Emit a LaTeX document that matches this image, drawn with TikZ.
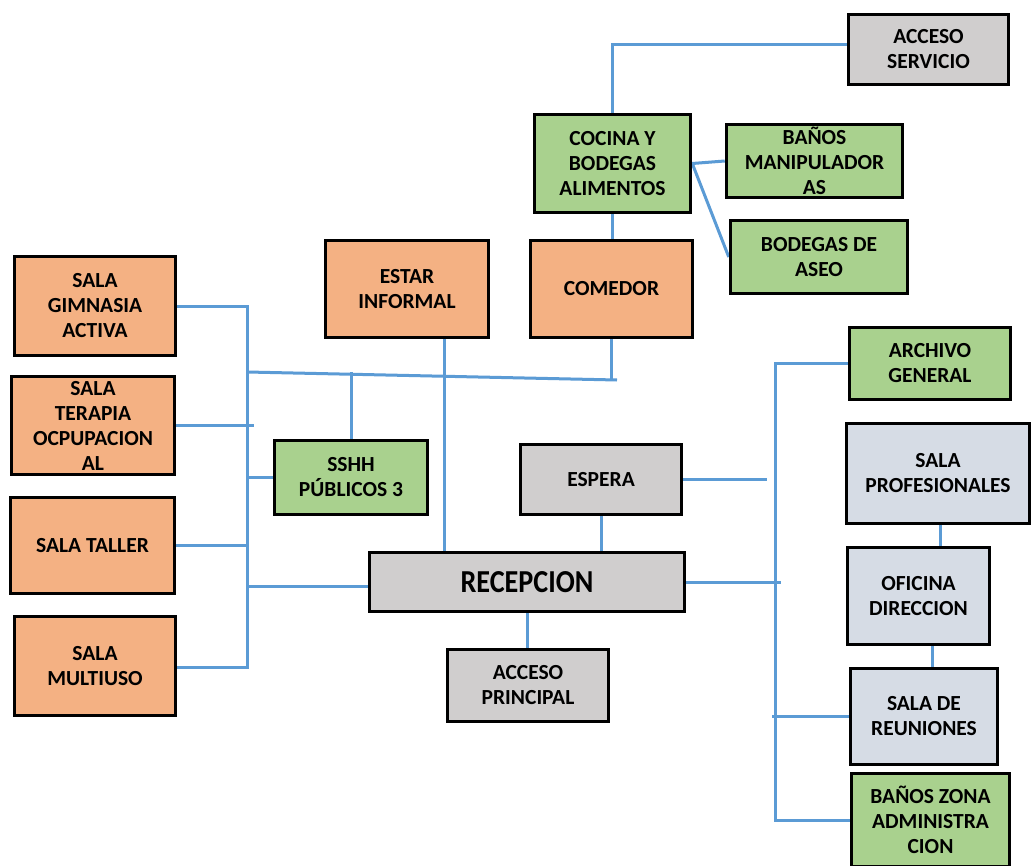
\documentclass[tikz,border=0pt]{standalone}
\usepackage{graphicx}
\usepackage{fontspec}
\setmainfont{Carlito}
\usetikzlibrary{backgrounds}
\definecolor{orangef}{HTML}{F4B183}
\definecolor{greenf}{HTML}{A9D18E}
\definecolor{grayf}{HTML}{D0CECE}
\definecolor{bluef}{HTML}{D6DCE5}
\definecolor{linec}{HTML}{5B9BD5}
\tikzset{
  box/.style={draw=black, line width=3.5pt, inner sep=0pt, align=center,
    font=\bfseries\fontsize{21.5}{25}\selectfont, text=black},
  conn/.style={draw=linec, line width=3pt}
}
\begin{document}
\begin{tikzpicture}[x=1pt,y=-1pt]
\useasboundingbox (0,0) rectangle (1032,866);
\clip (0,0) rectangle (1032,866);
% top cluster
\node[box, fill=grayf, minimum width=160pt, minimum height=70pt] (accser) at (928.5,49.5) {ACCESO\\SERVICIO};
\node[box, fill=greenf, minimum width=156pt, minimum height=98pt] (cocina) at (612.5,163.5) {COCINA Y\\BODEGAS\\ALIMENTOS};
\node[box, fill=greenf, minimum width=176pt, minimum height=73pt] (banman) at (814.5,161) {BAÑOS\\MANIPULADOR\\AS};
\node[box, fill=greenf, minimum width=177pt, minimum height=73pt] (bodaseo) at (819,257) {BODEGAS DE\\ASEO};
\node[box, fill=orangef, minimum width=162pt, minimum height=97pt] (comedor) at (611.5,289) {COMEDOR};
\node[box, fill=orangef, minimum width=163pt, minimum height=97pt] (estar) at (407,289) {ESTAR\\INFORMAL};
% left column
\node[box, fill=orangef, minimum width=161pt, minimum height=99pt] (gim) at (95,306) {SALA\\GIMNASIA\\ACTIVA};
\node[box, fill=orangef, minimum width=163pt, minimum height=98pt] (terapia) at (93,425.5) {SALA\\TERAPIA\\OCPUPACION\\AL};
\node[box, fill=orangef, minimum width=164pt, minimum height=96pt] (taller) at (92.5,545.5) {SALA TALLER};
\node[box, fill=orangef, minimum width=161pt, minimum height=99pt] (multi) at (95,666) {SALA\\MULTIUSO};
% centre
\node[box, fill=greenf, minimum width=153pt, minimum height=74pt] (sshh) at (351,477.5) {SSHH\\PÚBLICOS 3};
\node[box, fill=grayf, minimum width=161pt, minimum height=70pt] (espera) at (601,479.5) {ESPERA};
\node[box, fill=grayf, minimum width=315pt, minimum height=59pt, font=\bfseries\fontsize{32}{34}\selectfont] (recep) at (527,582) {\scalebox{0.88}[1]{RECEPCION}};
\node[box, fill=grayf, minimum width=161pt, minimum height=72pt] (accpri) at (528,685.5) {ACCESO\\PRINCIPAL};
% right column
\node[box, fill=greenf, minimum width=161pt, minimum height=72pt] (archivo) at (930,363.5) {ARCHIVO\\GENERAL};
\node[box, fill=bluef, minimum width=183pt, minimum height=100pt] (prof) at (938,473.5) {SALA\\PROFESIONALES};
\node[box, fill=bluef, minimum width=142pt, minimum height=97pt] (oficina) at (918.5,596) {OFICINA\\DIRECCION};
\node[box, fill=bluef, minimum width=147pt, minimum height=96pt] (reun) at (924,716.5) {SALA DE\\REUNIONES};
\node[box, fill=greenf, minimum width=158pt, minimum height=93pt] (banzona) at (930.5,820) {BAÑOS ZONA\\ADMINISTRA\\CION};
% connector anchors
\coordinate (sa) at (612,45);
\coordinate (hl) at (247,372);
\coordinate (hr) at (617,380);
\coordinate (hc) at (611,380);
\coordinate (ev) at (444,400);
\coordinate (lb) at (247,667);
\coordinate (rb) at (775,820);
\coordinate (po) at (940,530);
\coordinate (or) at (932,650);
\begin{scope}[on background layer]
\fill[white] (0,0) rectangle (1032,866);
\draw[conn] (accser.west |- sa) -- (sa) -- (sa |- cocina.north);
\draw[conn] (sa |- cocina.south) -- (sa |- comedor.north);
\draw[conn] (cocina.east) -- (banman.west);
\draw[conn] (cocina.east) -- (bodaseo.west);
\draw[conn] (hl) -- (hr);
\draw[conn] (comedor.south -| hc) -- (hc);
\draw[conn] (sshh.north) -- (sshh.north |- hl);
\draw[conn] (estar.south -| ev) -- (recep.north -| ev);
\draw[conn] (gim.east) -| (lb) -- (lb -| multi.east);
\draw[conn] (terapia.east) -- ++(78,0);
\draw[conn] (sshh.west) -- (sshh.west -| lb);
\draw[conn] (taller.east) -- (taller.east -| lb);
\draw[conn] ([yshift=-4pt]recep.west) -- ([yshift=-4pt]recep.west -| lb);
\draw[conn] (espera.south) -- (espera.south |- recep.north);
\draw[conn] (recep.south) -- (recep.south |- accpri.north);
\draw[conn] (archivo.west) -| (rb) -- (rb -| banzona.west);
\draw[conn] (espera.east) -- ++(84,0);
\draw[conn] (recep.east) -- ++(95,0);
\draw[conn] (reun.west) -- ++(-77,0);
\draw[conn] (prof.south -| po) -- (oficina.north -| po);
\draw[conn] (oficina.south -| or) -- (reun.north -| or);
\end{scope}
\end{tikzpicture}
\end{document}
